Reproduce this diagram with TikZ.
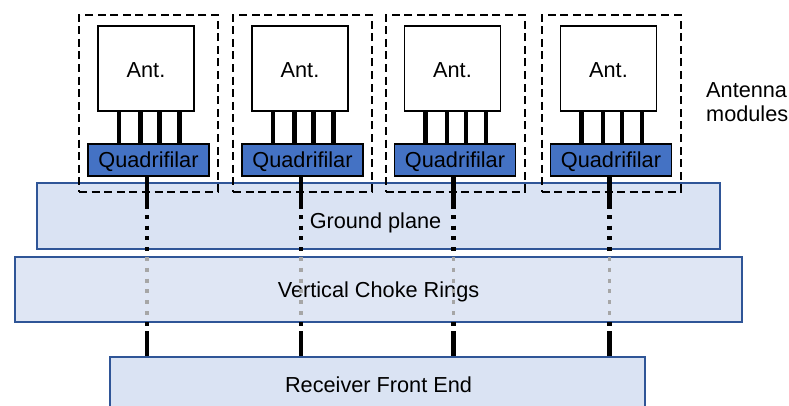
\documentclass[tikz,border=0pt]{standalone}
\usepackage{fontspec}
\setmainfont{Liberation Sans}
\usetikzlibrary{calc}
\definecolor{planefill}{HTML}{DAE3F3}
\definecolor{chokefill}{HTML}{DFE6F4}
\definecolor{edgeblue}{HTML}{2F5597}
\definecolor{quadblue}{HTML}{4472C4}
\definecolor{dotgray}{HTML}{A6A6A6}
\tikzset{
  lbl/.style={font=\fontsize{21.7}{24}\selectfont, inner sep=0pt, anchor=base, text=black},
  layer/.style={draw=edgeblue, line width=1.7pt, inner sep=0pt},
  modbox/.style={draw=black, dash pattern=on 8pt off 4.6pt, line width=2pt, minimum width=139pt, minimum height=177pt, inner sep=0pt},
  antbox/.style={draw=black, fill=white, line width=1.7pt, minimum width=96pt, minimum height=85pt, inner sep=0pt},
  quadbox/.style={draw=black, fill=quadblue, line width=1.7pt, minimum width=121pt, minimum height=32pt, inner sep=0pt},
  lead/.style={line width=4.2pt, black},
  stemsolid/.style={line width=4.2pt, black},
  stemdot/.style={line width=4.2pt, black, dash pattern=on 4pt off 6.7pt},
  stemgray/.style={line width=3.7pt, dotgray, dash pattern=on 4pt off 6.8pt}
}
\begin{document}
\begin{tikzpicture}[x=1pt,y=-1pt]
\clip (0,0) rectangle (789,405);
% layers
\node[layer, fill=planefill, minimum width=683pt, minimum height=66pt] (gp) at (378.5,216) {};
\node[layer, fill=chokefill, minimum width=727pt, minimum height=65pt] (vc) at (378.5,289.5) {};
\node[layer, fill=planefill, minimum width=535pt, minimum height=60pt] (rfe) at (377.5,387) {};
\node[lbl] (gpt) at (375.5,228.3) {Ground plane};
\node[lbl] (vct) at (378.5,297) {Vertical Choke Rings};
\node[lbl] (rfet) at (378.5,392) {Receiver Front End};
% modules
\foreach \i/\m in {1/148.5,2/302.5,3/455,4/611}{
  \node[modbox] (d\i) at (\m,103.5) {};
  \node[antbox] (a\i) at (\m-2.5,68.5) {};
  \node[lbl] (at\i) at (\m-2.5,77) {Ant.};
  \node[quadbox] (q\i) at (\m,160) {};
  \node[lbl] (qt\i) at (\m,167.7) {Quadrifilar};
  \foreach \o in {-29.5,-8,11,31}{
    \draw[lead] ([xshift=\o pt]q\i.north) -- ([xshift=\o pt]q\i.north |- a\i.south);
  }
  \coordinate (s\i) at ([xshift=-1.5pt]q\i.south);
  \draw[stemsolid] (s\i) -- (s\i |- 0,209);
  \draw[stemdot] (s\i |- 0,215) -- (s\i |- 0,251.5);
  \draw[stemgray] (s\i |- 0,257) -- (s\i |- 0,315);
  \draw[stemdot] (s\i |- 0,322) -- (s\i |- 0,326);
  \draw[stemsolid] (s\i |- 0,331) -- (s\i |- rfe.north);
}
\node[lbl, anchor=base west] (am1) at (706,97) {Antenna};
\node[lbl, anchor=base west] (am2) at (706,121) {modules};
\end{tikzpicture}
\end{document}
